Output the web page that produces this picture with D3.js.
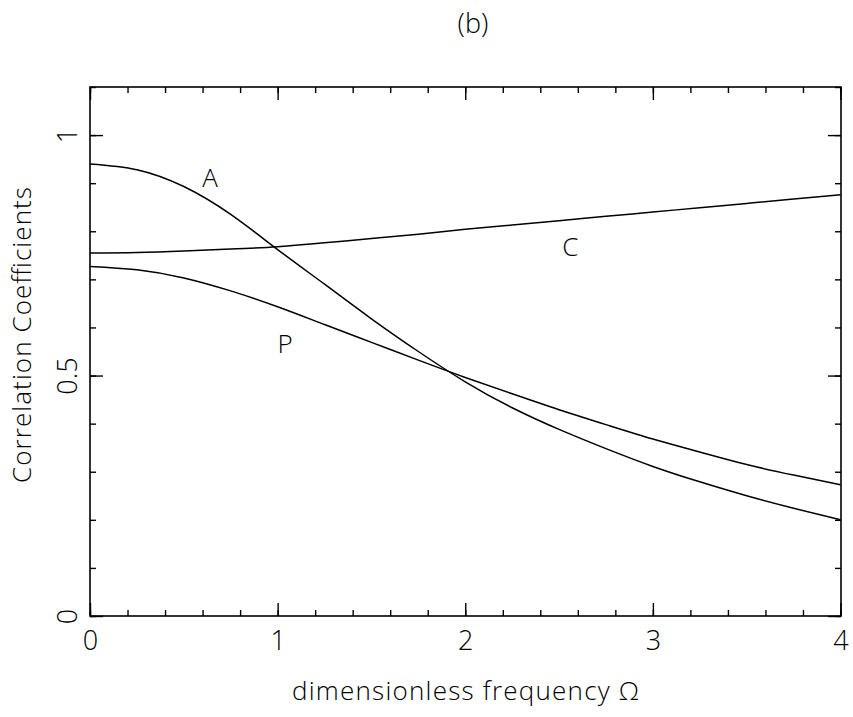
<!DOCTYPE html>
<html>
<head>
<meta charset="utf-8">
<script src="https://cdn.jsdelivr.net/npm/d3@7"></script>
<style>
  body { margin: 0; background: #fff; }
  svg { display: block; }
  text { font-family: 'Open Sans', 'DejaVu Sans', sans-serif; font-weight: 300; fill: #000; }
</style>
</head>
<body>
<svg></svg>
<script>
'use strict'

// frequency grid and the three correlation curves
const omega = [0, 0.25, 0.5, 0.75, 1, 1.25, 1.5, 1.75, 2, 2.25, 2.5, 2.75, 3, 3.25, 3.5, 3.75, 4]
const curveA = [0.940, 0.928, 0.893, 0.835, 0.762, 0.690, 0.618, 0.550, 0.487, 0.433, 0.388, 0.348, 0.311, 0.279, 0.250, 0.224, 0.200]
const curveC = [0.755, 0.756, 0.759, 0.763, 0.768, 0.776, 0.785, 0.794, 0.804, 0.813, 0.822, 0.831, 0.840, 0.849, 0.858, 0.867, 0.876]
const curveP = [0.727, 0.720, 0.703, 0.676, 0.643, 0.606, 0.569, 0.532, 0.496, 0.462, 0.429, 0.398, 0.368, 0.341, 0.315, 0.293, 0.273]

const curveLabels = [
  { name: 'A', x: 0.64, y: 0.893 },
  { name: 'C', x: 2.56, y: 0.748 },
  { name: 'P', x: 1.04, y: 0.547 }
]

const xMajor = [0, 1, 2, 3, 4]
const yMajor = [0, 0.5, 1]

const margin = { top: 87, right: 12, bottom: 101, left: 90 }
const W = 853, H = 717
const width = W - margin.left - margin.right,
  height = H - margin.top - margin.bottom

const svg = d3.select('svg').attr('width', W).attr('height', H)

const g = svg.append('g')
  .attr('transform', 'translate(' + margin.left + ',' + margin.top + ')')

const x = d3.scaleLinear().domain([0, 4]).range([0, width - 0.5])
const y = d3.scaleLinear().domain([0, 1.1]).range([height, 0])

const xMinor = d3.range(0, 4.001, 0.2).map(v => +v.toFixed(1))
const yMinor = d3.range(0, 1.101, 0.1).map(v => +v.toFixed(1))

function styleAxis(sel) {
  sel.select('.domain').remove()
  sel.selectAll('line').attr('stroke', '#000').attr('stroke-width', 1.4)
  sel.selectAll('text').style('font-size', '27px')
}

// bottom
g.append('g').attr('transform', 'translate(0,' + height + ')')
  .call(d3.axisBottom(x).tickValues(xMinor).tickSize(-6).tickFormat(''))
  .call(styleAxis)
g.append('g').attr('transform', 'translate(0,' + height + ')')
  .call(d3.axisBottom(x).tickValues(xMajor).tickSize(-13).tickPadding(15).tickFormat(d3.format('d')))
  .call(styleAxis)

// top
g.append('g')
  .call(d3.axisTop(x).tickValues(xMinor).tickSize(-6).tickFormat(''))
  .call(styleAxis)
g.append('g')
  .call(d3.axisTop(x).tickValues(xMajor).tickSize(-13).tickFormat(''))
  .call(styleAxis)

// left
g.append('g')
  .call(d3.axisLeft(y).tickValues(yMinor).tickSize(-6).tickFormat(''))
  .call(styleAxis)
const yAxis = g.append('g')
  .call(d3.axisLeft(y).tickValues(yMajor).tickSize(-13).tickFormat(d3.format('')))
  .call(styleAxis)
yAxis.selectAll('text')
  .attr('x', 0)
  .attr('dy', 0)
  .attr('text-anchor', 'middle')
  .attr('transform', 'translate(-13,0) rotate(-90)')

// right
g.append('g').attr('transform', 'translate(' + width + ',0)')
  .call(d3.axisRight(y).tickValues(yMinor).tickSize(-6).tickFormat(''))
  .call(styleAxis)
g.append('g').attr('transform', 'translate(' + width + ',0)')
  .call(d3.axisRight(y).tickValues(yMajor).tickSize(-13).tickFormat(''))
  .call(styleAxis)

// frame
g.append('rect')
  .attr('width', width)
  .attr('height', height)
  .attr('fill', 'none')
  .attr('stroke', '#000')
  .attr('stroke-width', 1.6)

const line = d3.line()
  .x(d => x(d[0]))
  .y(d => y(d[1]))
  .curve(d3.curveNatural)

;[curveA, curveC, curveP].forEach(vals => {
  g.append('path')
    .datum(omega.map((o, i) => [o, vals[i]]))
    .attr('d', line)
    .attr('fill', 'none')
    .attr('stroke', '#000')
    .attr('stroke-width', 1.5)
})

g.selectAll('.curve-label')
  .data(curveLabels)
  .enter()
  .append('text')
  .attr('class', 'curve-label')
  .attr('x', d => x(d.x))
  .attr('y', d => y(d.y))
  .attr('text-anchor', 'middle')
  .style('font-size', '26px')
  .text(d => d.name)

// titles
svg.append('text')
  .attr('x', 473)
  .attr('y', 33)
  .attr('text-anchor', 'middle')
  .style('font-size', '27px')
  .text('(b)')

svg.append('text')
  .attr('x', margin.left + width / 2)
  .attr('y', 700)
  .attr('text-anchor', 'middle')
  .style('font-size', '26px')
  .attr('textLength', 347)
  .attr('lengthAdjust', 'spacing')
  .text('dimensionless frequency Ω')

svg.append('text')
  .attr('transform', 'translate(31,335) rotate(-90)')
  .attr('text-anchor', 'middle')
  .style('font-size', '26px')
  .attr('textLength', 296)
  .attr('lengthAdjust', 'spacing')
  .text('Correlation Coefficients')
</script>
</body>
</html>
